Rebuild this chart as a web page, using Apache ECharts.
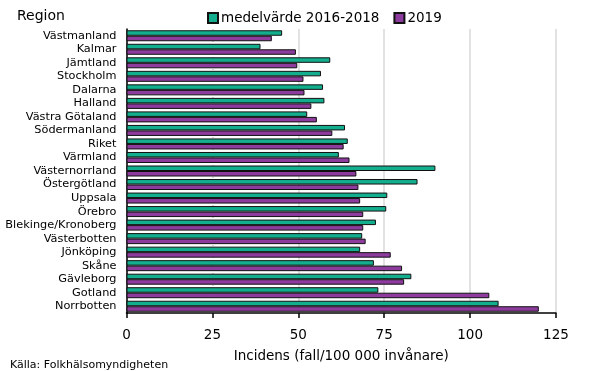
<!DOCTYPE html>
<html><head><meta charset="utf-8">
<script src="https://cdn.jsdelivr.net/npm/echarts@6/dist/echarts.min.js"></script>
<style>html,body{margin:0;padding:0;background:#fff}#c{width:590px;height:371px}</style>
</head><body><div id="c"></div>
<script>
const categories = ["Västmanland","Kalmar","Jämtland","Stockholm","Dalarna","Halland","Västra Götaland","Södermanland","Riket","Värmland","Västernorrland","Östergötland","Uppsala","Örebro","Blekinge/Kronoberg","Västerbotten","Jönköping","Skåne","Gävleborg","Gotland","Norrbotten"];
const seriesNames = ["medelvärde 2016-2018","2019"];
const avg2016_2018 = [45.3,39.0,59.3,56.6,57.2,57.6,52.6,63.6,64.4,61.8,89.9,84.7,75.9,75.6,72.6,68.6,68.0,72.0,82.9,73.3,108.3];
const val2019 = [42.3,49.3,49.7,51.5,51.8,53.8,55.4,59.9,63.2,64.9,66.9,67.5,68.0,68.9,68.9,69.6,76.9,80.2,80.8,105.6,120.0];
const xTicks = [0,25,50,75,100,125];

const font = "DejaVu Sans";
const chart = echarts.init(document.getElementById('c'));
chart.setOption({
  animation:false,
  textStyle:{fontFamily:font},
  title:[
    {text:"Region",left:17,top:9,padding:0,textStyle:{fontFamily:font,fontSize:14,fontWeight:'normal',color:'#000'}},
    {text:"Källa: Folkhälsomyndigheten",left:10,top:360,padding:0,textStyle:{fontFamily:font,fontSize:11,fontWeight:'normal',color:'#000'}}
  ],
  legend:{
    data:seriesNames, left:202, top:6, itemWidth:10, itemHeight:10, itemGap:14,
    textStyle:{fontFamily:font,fontSize:13.5,color:'#000',padding:[0,0,0,-2]},
    icon:'rect'
  },
  grid:{left:126.5,right:34,top:29,bottom:58},
  xAxis:{
    type:'value',min:xTicks[0],max:xTicks[xTicks.length-1],interval:25,
    name:"Incidens (fall/100 000 invånare)",nameLocation:'middle',nameGap:36,
    nameTextStyle:{fontFamily:font,fontSize:13.5,color:'#000'},
    axisLine:{show:true,lineStyle:{color:'#000',width:1.5}},
    axisTick:{show:true,length:5,lineStyle:{color:'#000',width:1.5}},
    axisLabel:{fontFamily:font,fontSize:13.5,color:'#000',margin:15},
    splitLine:{show:true,lineStyle:{color:['#d9d9d9','transparent','#d9d9d9','#d9d9d9','#d9d9d9','#d9d9d9'],width:1.5}}
  },
  yAxis:{
    type:'category',data:categories,inverse:true,
    axisLine:{show:true,lineStyle:{color:'#000',width:1.5}},
    axisTick:{show:false},
    axisLabel:{fontFamily:font,fontSize:11.3,color:'#000',margin:10,interval:0}
  },
  series:[
    {name:seriesNames[0],type:'bar',data:avg2016_2018,barWidth:5.5,barGap:'0%',
     itemStyle:{color:'#12ae8e',borderColor:'#111',borderWidth:1},
     markLine:{silent:true,symbol:'none',label:{show:false},z:0,
       lineStyle:{color:'#c8c8c8',type:[1,3],width:1.5},data:[{xAxis:xTicks[1]}]}},
    {name:seriesNames[1],type:'bar',data:val2019,barWidth:5.5,barGap:'0%',
     itemStyle:{color:'#8e3b9e',borderColor:'#111',borderWidth:1}}
  ]
});
</script></body></html>
